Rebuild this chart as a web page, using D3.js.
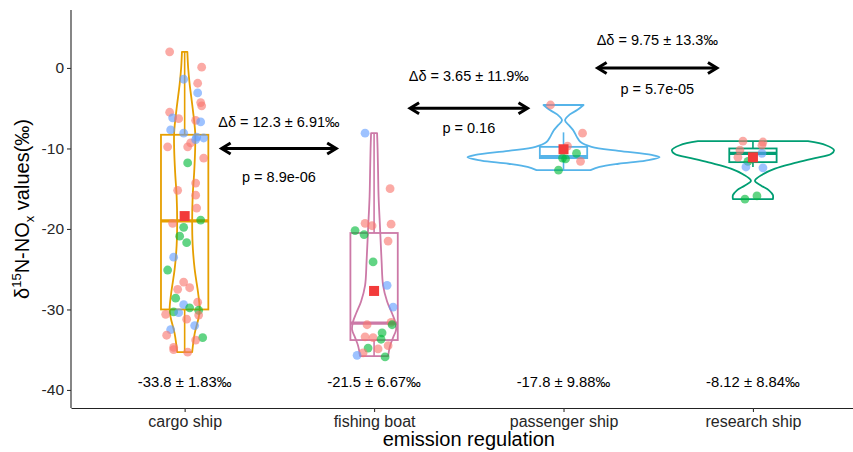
<!DOCTYPE html>
<html><head><meta charset="utf-8">
<script src="https://cdn.jsdelivr.net/npm/d3@7"></script>
<style>
html,body{margin:0;padding:0;background:#fff;}
svg{display:block;font-family:"Liberation Sans",Arial,sans-serif;}
</style></head>
<body>
<svg id="chart" width="853" height="452"></svg>
<script>
// ---------------- DATA ----------------
const categories = ["cargo ship", "fishing boat", "passenger ship", "research ship"];
const yTicks = [0, -10, -20, -30, -40];
const violinColors = ["#E69F00", "#CC79A7", "#56B4E9", "#009E73"];
const groupColors = {R: "#F8766D", G: "#00BA38", B: "#619CFF"};

// violin outlines: value levels and half-width (offset units)
const cargoViolinV = [2.0, 0, -2, -5, -8, -10, -13, -16, -19, -22, -25, -28, -30, -31, -33, -35.3];
const cargoViolinW = [2.7, 3.5, 5, 8, 10.5, 10.5, 9.5, 8, 7.5, 8, 10, 13.5, 15, 14, 10, 7.5];
const fishingViolinV = [-8.1, -10, -13, -16, -20, -24, -27, -29, -30.5, -31.5, -32.5, -33.5, -34.5, -35.8];
const fishingViolinW = [3, 3.5, 4, 4.5, 6, 7.5, 9, 13, 18, 21, 22, 19, 16, 14];
const passengerViolinV = [-4.6, -5.2, -5.8, -6.5, -7.2, -7.8, -8.5, -9.2, -9.8, -10.3, -10.8, -11.1, -11.5, -11.9, -12.3, -12.7];
const passengerViolinW = [20, 14, 6, 1.5, 6, 10, 13, 17, 28, 55, 88, 96, 82, 55, 36, 27];
const researchViolinV = [-9.1, -9.6, -10.2, -10.7, -11.2, -11.8, -12.5, -13.2, -14.0, -14.6, -15.2, -15.8, -16.3];
const researchViolinW = [55, 73, 81, 78, 62, 42, 22, 10, 2, 8, 16, 20, 20];

// box stats: [lower whisker, q1, median, q3, upper whisker]
const boxLower = [-35.3, -35.8, -12.7, -12.3];
const boxQ1 = [-30.0, -33.8, -11.2, -11.7];
const boxMedian = [-19.0, -31.7, -11.0, -10.6];
const boxQ3 = [-8.3, -20.5, -9.8, -10.0];
const boxUpper = [2.0, -8.1, -8.0, -9.15];
const means = [-18.4, -27.7, -10.1, -11.1];

// jittered points: value, jitter offset, group
const cargoValues = [2.0, 0.1, -1.9, -1.4, -3.1, -4.3, -4.7, -5.5, -6.2, -6.3, -6.5, -6.7, -7.7, -8.1, -8.6, -8.7, -9.8, -9.8, -9.3, -8.9, -11.8, -11.2, -15.2, -14.3, -15.8, -17.4, -18.9, -19.3, -19.8, -20.9, -21.7, -23.5, -25.1, -26.6, -27.5, -27.3, -28.6, -29.1, -29.4, -29.8, -30.1, -30.6, -30.3, -30.4, -31.2, -30.7, -32.0, -32.5, -33.2, -33.5, -33.8, -34.7, -35.0, -35.3];
const cargoJitter = [-15, 17, 13, -1, 13, 16, 17, -15, -12, -6, 11, 16, -14, -1, 12, 19, -17, 3, 6, 11, 3, 19, -7, 11, 11, 12, 16, -12, -1, -5, 2, -11, -17, -1, -7, 5, -9, 13, -1, 5, 14, -19, -11, -6, 2, 14, 10, -14, -18, 18, 11, -11, -11, 3];
const cargoGroup = ["R","R","R","B","B","R","R","R","B","R","R","B","B","B","B","B","R","R","R","B","G","R","R","R","R","R","G","R","G","G","G","B","G","R","R","R","G","R","B","G","G","R","G","B","R","R","B","B","R","G","R","R","R","R"];
const fishingValues = [-8.1, -15.0, -19.3, -19.6, -19.4, -20.2, -20.7, -21.5, -24.1, -27.0, -29.7, -31.6, -31.9, -32.9, -33.4, -33.5, -33.7, -34.9, -34.8, -35.4, -34.5, -35.7, -35.9, -31.9];
const fishingJitter = [-9, 16, -9, -2, 17, -19, -10, 14, -1, 13, 19, 17, -7, 8, -9, -1, 7, 4, -6, -11, 14, -17, 11, 18];
const fishingGroup = ["B","R","R","R","R","G","G","R","G","B","B","R","R","G","R","R","G","R","G","R","R","B","G","G"];
const passengerValues = [-4.6, -8.1, -9.7, -10.6, -11.3, -11.6, -12.7, -11.2];
const passengerJitter = [-13, 19, 4, 13, 2, 17, -5, -1];
const passengerGroup = ["R","R","R","G","G","R","G","G"];
const researchValues = [-9.1, -9.2, -9.6, -10.2, -10.6, -11.1, -11.6, -12.3, -12.4, -16.3, -15.9];
const researchJitter = [-10, 10, 9, -13, 9, -15, -5, -7, 10, -8, 4];
const researchGroup = ["R","R","R","R","B","R","G","B","B","G","G"];

// labels under each group
const summaryLabels = ["-33.8 ± 1.83‰", "-21.5 ± 6.67‰", "-17.8 ± 9.88‰", "-8.12 ± 8.84‰"];
const summaryY = -39;

// pairwise comparisons
const compFrom = [0.195, 1.19, 2.18];
const compTo = [0.80, 1.81, 2.81];
const compY = [-10, -5, 0];
const deltaLabels = ["Δδ = 12.3 ± 6.91‰", "Δδ = 3.65 ± 11.9‰", "Δδ = 9.75 ± 13.3‰"];
const deltaY = [-6.7, -1.0, 3.5];
const pLabels = ["p = 8.9e-06", "p = 0.16", "p = 5.7e-05"];
const pY = [-13.5, -7.5, -2.6];

// ---------------- CHART ----------------
const svg = d3.select("#chart");
const x = d3.scaleLinear().domain([-0.6, 3.6]).range([71, 866.6]);
const y = d3.scaleLinear().domain([-42.24, 7.2]).range([408, 10]);
const step = x(1) - x(0);
const off = d3.scaleLinear().domain([0, 100]).range([0, step * 100 / 189.3]);

const violinV = [cargoViolinV, fishingViolinV, passengerViolinV, researchViolinV];
const violinW = [cargoViolinW, fishingViolinW, passengerViolinW, researchViolinW];
const ptV = [cargoValues, fishingValues, passengerValues, researchValues];
const ptJ = [cargoJitter, fishingJitter, passengerJitter, researchJitter];
const ptG = [cargoGroup, fishingGroup, passengerGroup, researchGroup];

// axes
const yAxis = svg.append("g").attr("transform", `translate(${x(-0.6)},0)`)
  .call(d3.axisLeft(y).tickValues(yTicks).tickSize(4).tickSizeOuter(0).tickFormat(d => String(d)));
yAxis.select(".domain").attr("d", `M0,${y.range()[1]}V${y.range()[0]}`);
const xAxis = svg.append("g").attr("transform", `translate(0,${y.range()[0]})`)
  .call(d3.axisBottom(x).tickValues([0, 1, 2, 3]).tickSize(4).tickSizeOuter(0).tickFormat(i => categories[i]));
[yAxis, xAxis].forEach(a => {
  a.select(".domain").attr("stroke", "#222").attr("stroke-width", 1.1);
  a.selectAll(".tick line").attr("stroke", "#333").attr("stroke-width", 1.1);
  a.selectAll(".tick text").attr("fill", "#262626").attr("font-family", "Liberation Sans, Arial, sans-serif");
});
yAxis.selectAll(".tick text").attr("font-size", 15.5).attr("x", -7);
xAxis.selectAll(".tick text").attr("font-size", 16).attr("y", 8);

// axis titles
svg.append("text").attr("x", (x.range()[0] + x.range()[1]) / 2).attr("y", 446)
  .attr("text-anchor", "middle").attr("font-size", 20).attr("fill", "#000").text("emission regulation");
const yt = svg.append("text").attr("transform", `translate(29,${(y.range()[0] + y.range()[1]) / 2}) rotate(-90)`)
  .attr("text-anchor", "middle").attr("font-size", 20).attr("fill", "#000");
yt.append("tspan").text("δ");
yt.append("tspan").attr("font-size", 13).attr("dy", -8).text("15");
yt.append("tspan").attr("dy", 8).text("N-NO");
yt.append("tspan").attr("font-size", 13).attr("dy", 5).text("x");
yt.append("tspan").attr("dy", -5).text(" values(‰)");

const plot = svg.append("g");

// violins
categories.forEach((c, i) => {
  const pts = violinV[i].map((v, k) => ({v, w: violinW[i][k]}));
  const area = d3.area()
    .y(d => y(d.v))
    .x0(d => x(i) - off(d.w))
    .x1(d => x(i) + off(d.w))
    .curve(d3.curveCatmullRom.alpha(0.5));
  plot.append("path").attr("d", area(pts))
    .attr("fill", "none").attr("stroke", violinColors[i]).attr("stroke-width", 1.8)
    .attr("stroke-linejoin", "round");
});

// boxplots
const bw = step * 0.25;
categories.forEach((c, i) => {
  const g = plot.append("g").attr("stroke", violinColors[i]).attr("fill", "none");
  g.append("line").attr("x1", x(i)).attr("x2", x(i)).attr("y1", y(boxQ3[i])).attr("y2", y(boxUpper[i])).attr("stroke-width", 1.6);
  g.append("line").attr("x1", x(i)).attr("x2", x(i)).attr("y1", y(boxQ1[i])).attr("y2", y(boxLower[i])).attr("stroke-width", 1.6);
  g.append("rect").attr("x", x(i) - bw / 2).attr("width", bw)
    .attr("y", y(boxQ3[i])).attr("height", y(boxQ1[i]) - y(boxQ3[i])).attr("stroke-width", 1.8);
  g.append("line").attr("x1", x(i) - bw / 2).attr("x2", x(i) + bw / 2)
    .attr("y1", y(boxMedian[i])).attr("y2", y(boxMedian[i])).attr("stroke-width", 3.2);
});

// jittered points
categories.forEach((c, i) => {
  const data = ptV[i].map((v, k) => ({v, j: ptJ[i][k], g: ptG[i][k]}));
  plot.append("g").selectAll("circle").data(data).join("circle")
    .attr("cx", d => x(i) + (d.j < 0 ? -off(-d.j) : off(d.j)))
    .attr("cy", d => y(d.v))
    .attr("r", 4.4)
    .attr("fill", d => groupColors[d.g])
    .attr("fill-opacity", 0.62);
});

// mean squares
plot.append("g").selectAll("rect").data(means).join("rect")
  .attr("x", (d, i) => x(i) - 5).attr("y", d => y(d) - 5)
  .attr("width", 10).attr("height", 10).attr("fill", "#F23B3B");

// summary labels
svg.append("g").selectAll("text").data(summaryLabels).join("text")
  .attr("x", (d, i) => x(i)).attr("y", y(summaryY)).attr("dy", "0.35em")
  .attr("text-anchor", "middle").attr("font-size", 14.8).attr("fill", "#000").text(d => d);

// comparisons
const ann = svg.append("g");
compFrom.forEach((f, k) => {
  const x1 = x(f), x2 = x(compTo[k]), yy = y(compY[k]);
  const head = 9, spread = 5.5;
  ann.append("line").attr("x1", x1 + 1).attr("x2", x2 - 1).attr("y1", yy).attr("y2", yy)
    .attr("stroke", "#000").attr("stroke-width", 3);
  ann.append("path").attr("d", `M${x1 + head},${yy - spread}L${x1},${yy}L${x1 + head},${yy + spread}`)
    .attr("fill", "none").attr("stroke", "#000").attr("stroke-width", 3).attr("stroke-linejoin", "miter");
  ann.append("path").attr("d", `M${x2 - head},${yy - spread}L${x2},${yy}L${x2 - head},${yy + spread}`)
    .attr("fill", "none").attr("stroke", "#000").attr("stroke-width", 3).attr("stroke-linejoin", "miter");
  const mid = x((f + compTo[k]) / 2);
  ann.append("text").attr("x", mid).attr("y", y(deltaY[k])).attr("dy", "0.35em")
    .attr("text-anchor", "middle").attr("font-size", 14.5).attr("fill", "#000").text(deltaLabels[k]);
  ann.append("text").attr("x", mid).attr("y", y(pY[k])).attr("dy", "0.35em")
    .attr("text-anchor", "middle").attr("font-size", 14.5).attr("fill", "#000").text(pLabels[k]);
});
</script>
</body></html>
